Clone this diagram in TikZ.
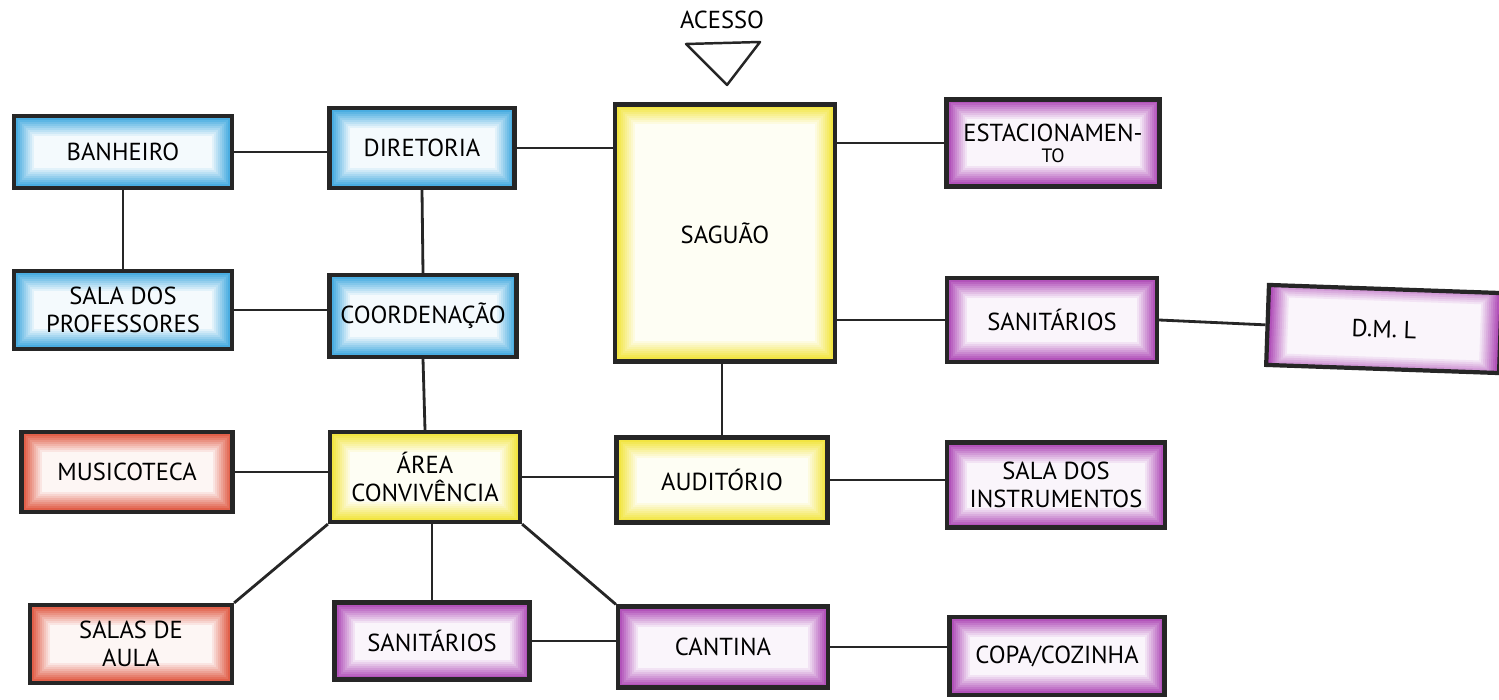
\documentclass[tikz,border=0pt]{standalone}
\usepackage{fontspec}
\setmainfont{PT Sans}

\definecolor{roomblue}{RGB}{45,160,220}
\definecolor{roomred}{RGB}{220,70,45}
\definecolor{roomyellow}{RGB}{240,225,35}
\definecolor{roompurple}{RGB}{165,55,175}

\begin{document}
\begin{tikzpicture}[x=0.2mm, y=-0.2mm,
  every node/.style={font=\fontsize{14}{16}\selectfont},
  glow/.style={fill=#1!5, path picture={
      \foreach \i in {1,...,10}
        \draw[line width=(44-4*\i)*0.2mm, draw=#1!\fpeval{9*\i+5}]
          (path picture bounding box.south west) rectangle (path picture bounding box.north east);
    }},
  room/.style={draw=black!85, line width=2.4pt, inner sep=0pt, align=center},
  blueroom/.style={room, glow=roomblue},
  redroom/.style={room, glow=roomred},
  yellowroom/.style={room, glow=roomyellow},
  purpleroom/.style={room, glow=roompurple},
  link/.style={draw=black!85, line width=1.6pt}]

\newcommand\U{0.2mm}

\useasboundingbox (0,0) rectangle (1499,700);

%% acesso
\node (acc) at (722,20) {ACESSO};
\draw[draw=black!85, line width=1.4pt, line join=round] (686,44) -- (760,42) -- (727,85) -- cycle;

%% administracao
\node[blueroom, minimum width=218*\U, minimum height=72*\U] (ban) at (123,152) {BANHEIRO};
\node[blueroom, minimum width=185*\U, minimum height=80*\U] (dir) at (422,148) {DIRETORIA};
\node[blueroom, minimum width=218*\U, minimum height=78*\U] (prof) at (123,310) {SALA DOS\\PROFESSORES};
\node[blueroom, minimum width=187*\U, minimum height=82*\U] (coord) at (423,316) {COORDENAÇÃO};

%% centro
\node[yellowroom, minimum width=220*\U, minimum height=257*\U] (sag) at (725,233) {SAGUÃO};
\node[yellowroom, minimum width=190*\U, minimum height=90*\U] (area) at (425,477) {ÁREA\\CONVIVÊNCIA};
\node[yellowroom, minimum width=211*\U, minimum height=85*\U] (aud) at (722,480) {AUDITÓRIO};

%% ensino
\node[redroom, minimum width=211*\U, minimum height=80*\U] (musi) at (127,472) {MUSICOTECA};
\node[redroom, minimum width=202*\U, minimum height=78*\U] (aula) at (131,644) {SALAS DE\\AULA};

%% servicos
\node[purpleroom, minimum width=213*\U, minimum height=87*\U] (est) at (1053,143)
  {ESTACIONAMEN-\\[-4pt]{\fontsize{11}{12}\selectfont TO}};
\node[purpleroom, minimum width=210*\U, minimum height=84*\U] (sanr) at (1052,320) {SANITÁRIOS};
\node[purpleroom, minimum width=233*\U, minimum height=80*\U, rotate=-2] (dml) at (1384,329) {D.M. L};
\node[purpleroom, minimum width=218*\U, minimum height=85*\U] (inst) at (1056,485) {SALA DOS\\INSTRUMENTOS};
\node[purpleroom, minimum width=195*\U, minimum height=77*\U] (sanb) at (432,641) {SANITÁRIOS};
\node[purpleroom, minimum width=210*\U, minimum height=81*\U] (cant) at (723,647) {CANTINA};
\node[purpleroom, minimum width=215*\U, minimum height=78*\U] (copa) at (1057,656) {COPA/COZINHA};

%% ligacoes
\draw[link] (ban.east) -- (ban.east -| dir.west);
\draw[link] (ban.south) -- (prof.north);
\draw[link] (dir.east) -- (dir.east -| sag.west);
\draw[link] (dir.south) -- (coord.north);
\draw[link] (prof.east) -- (prof.east -| coord.west);
\draw[link] (coord.south) -- (area.north);
\draw[link] (sag.east |- est.west) -- (est.west);
\draw[link] (sag.east |- sanr.west) -- (sanr.west);
\draw[link] (sanr.east) -- (dml.west);
\draw[link] (sag.south -| aud.north) -- (aud.north);
\draw[link] (musi.east) -- (musi.east -| area.west);
\draw[link] (area.east) -- (area.east -| aud.west);
\draw[link] (aud.east) -- (aud.east -| inst.west);
\draw[link] (area.south west) -- (aula.north east);
\draw[link] (area.south -| sanb.north) -- (sanb.north);
\draw[link] (area.south east) -- (cant.north west);
\draw[link] (sanb.east) -- (sanb.east -| cant.west);
\draw[link] (cant.east) -- (cant.east -| copa.west);

\end{tikzpicture}
\end{document}
